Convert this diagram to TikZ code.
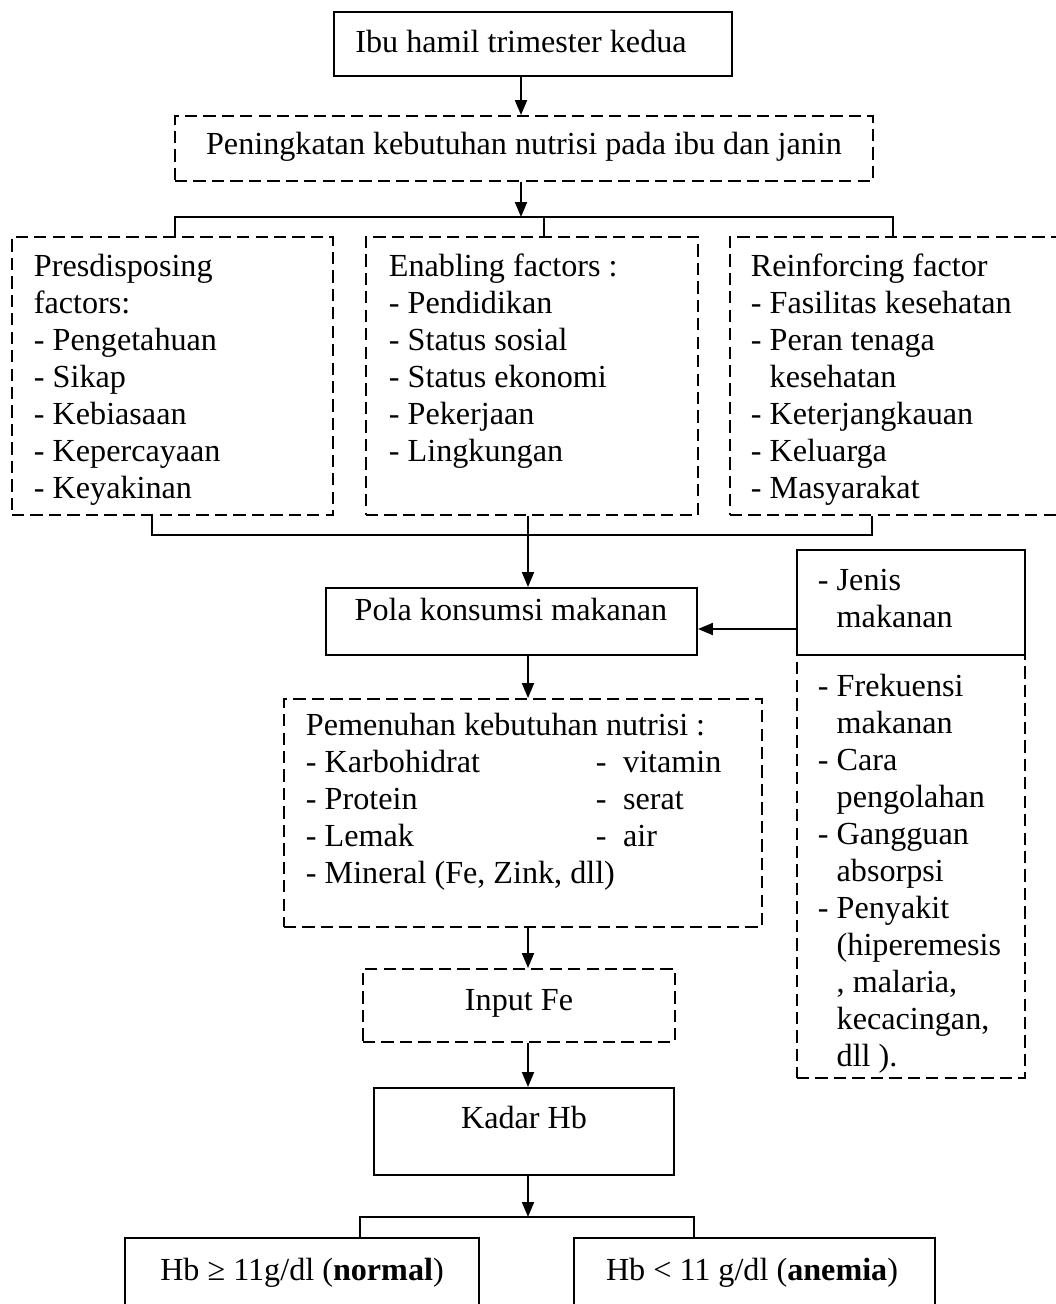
\documentclass[tikz,border=0pt]{standalone}
\usepackage{fontspec}
\setmainfont{Liberation Serif}
\usetikzlibrary{arrows.meta,fit}

\begin{document}
\begin{tikzpicture}[x=0.02cm,y=-0.02cm,line width=1.1pt,
  font=\fontsize{18.3}{21}\selectfont,
  bx/.style={draw,inner sep=0pt},
  dbx/.style={bx,dash pattern=on 7pt off 3.5pt},
  ln/.style={inner sep=0pt,anchor=base west},
  lc/.style={inner sep=0pt,anchor=base},
  arr/.style={-{Triangle[length=0.3cm,width=0.24cm]}}]
\useasboundingbox (0,0) rectangle (1055,1304);

% boxes
\node[bx,fit={(334,12) (732,76)}] (ibu) {};
\node[dbx,fit={(175,116) (873,181)}] (ning) {};
\node[dbx,fit={(12,237) (333,515)}] (pre) {};
\node[dbx,fit={(366,237) (698,515)}] (ena) {};
\node[dbx,fit={(730,237) (1062,515)}] (rei) {};
\node[bx,fit={(326,588) (697,655)}] (pola) {};
\node[bx,fit={(797,550) (1025,655)}] (jen) {};
\node[dbx,fit={(797,655) (1025,1078)}] (lain) {};
\node[dbx,fit={(284,699) (762,927)}] (nut) {};
\node[dbx,fit={(363,969) (675,1042)}] (fe) {};
\node[bx,fit={(374,1088) (674,1175)}] (hb) {};
\node[bx,fit={(125,1238) (479,1330)}] (nor) {};
\node[bx,fit={(574,1238) (935,1330)}] (ane) {};

% texts
\node[lc] (ibut) at (521,53) {Ibu hamil trimester kedua};
\node[lc] (ningt) at (524,155) {Peningkatan kebutuhan nutrisi pada ibu dan janin};
\foreach \s [count=\i from 0] in {Presdisposing,factors:,- Pengetahuan,- Sikap,- Kebiasaan,- Kepercayaan,- Keyakinan}
  \node[ln] (pre\i) at (33,276+37*\i) {\s};
\foreach \s [count=\i from 0] in {Enabling factors :,- Pendidikan,- Status sosial,- Status ekonomi,- Pekerjaan,- Lingkungan}
  \node[ln] (ena\i) at (388,276+37*\i) {\s};
\foreach \s [count=\i from 0] in {Reinforcing factor,- Fasilitas kesehatan,- Peran tenaga,{\hphantom{- }kesehatan},- Keterjangkauan,- Keluarga,- Masyarakat}
  \node[ln] (rei\i) at (750,276+37*\i) {\s};
\node[lc] (polat) at (511,620) {Pola konsumsi makanan};
\foreach \s [count=\i from 0] in {- Jenis,{\hphantom{- }makanan}}
  \node[ln] (jen\i) at (817,590+37*\i) {\s};
\foreach \s [count=\i from 0] in {- Frekuensi,{\hphantom{- }makanan},- Cara,{\hphantom{- }pengolahan},- Gangguan,{\hphantom{- }absorpsi},- Penyakit,{\hphantom{- }(hiperemesis},{\hphantom{- }, malaria,},{\hphantom{- }kecacingan,},{\hphantom{- }dll ).}}
  \node[ln] (lain\i) at (817,696+37*\i) {\s};
\foreach \s [count=\i from 0] in {Pemenuhan kebutuhan nutrisi :,- Karbohidrat,- Protein,- Lemak,{- Mineral (Fe, Zink, dll)}}
  \node[ln] (nut\i) at (305,735+37*\i) {\s};
\foreach \s [count=\i from 1] in {vitamin,serat,air}
  \node[ln] (nutr\i) at (595,735+37*\i) {-\hspace{0.33cm}\s};
\node[lc] (fet) at (519,1010) {Input Fe};
\node[lc] (hbt) at (524,1128) {Kadar Hb};
\node[lc] (nort) at (302,1280) {Hb ≥ 11g/dl (\textbf{normal})};
\node[lc] (anet) at (752,1280) {Hb < 11 g/dl (\textbf{anemia})};

% connectors
\coordinate (sp) at (521,0);
\coordinate (sq) at (528,0);
\draw[arr] (ibu.south-|sp) -- (ning.north-|sp);
\coordinate (tl) at (175,217);
\coordinate (tm) at (544,217);
\coordinate (tr) at (893,217);
\draw[arr] (ning.south-|sp) -- (sp|-tl);
\draw (pre.north-|tl) -- (tl) -- (tr) -- (rei.north-|tr);
\draw (tm) -- (ena.north-|tm);
\coordinate (bl) at (152,535);
\coordinate (bm) at (528,535);
\coordinate (br) at (872,535);
\draw (pre.south-|bl) -- (bl) -- (br) -- (rei.south-|br);
\draw (ena.south-|bm) -- (bm);
\draw[arr] (bm) -- (pola.north-|bm);
\coordinate (ar) at (0,629);
\draw[arr] (jen.west|-ar) -- (pola.east|-ar);
\draw[arr] (pola.south-|sq) -- (nut.north-|sq);
\draw[arr] (nut.south-|sq) -- (fe.north-|sq);
\draw[arr] (fe.south-|sq) -- (hb.north-|sq);
\coordinate (hl) at (360,1217);
\coordinate (hr) at (694,1217);
\draw[arr] (hb.south-|sq) -- (sq|-hl);
\draw (nor.north-|hl) -- (hl) -- (hr) -- (ane.north-|hr);
\end{tikzpicture}
\end{document}
